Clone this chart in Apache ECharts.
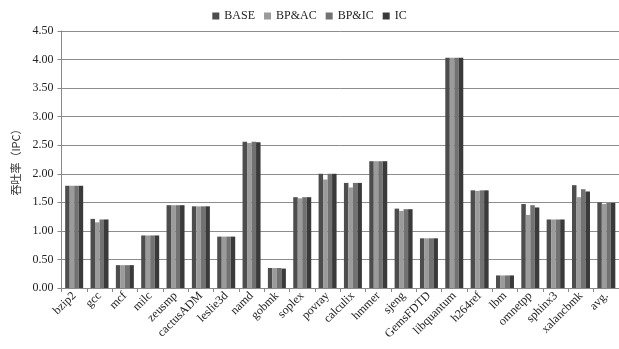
<!DOCTYPE html>
<html><head><meta charset="utf-8">
<script src="https://cdn.jsdelivr.net/npm/echarts@6/dist/echarts.min.js"></script>
<style>html,body{margin:0;padding:0;background:#fff}#c{width:619px;height:349px}</style>
</head><body><div id="c"></div>
<script>
const categories = ['bzip2','gcc','mcf','milc','zeusmp','cactusADM','leslie3d','namd','gobmk','soplex','povray','calculix','hmmer','sjeng','GemsFDTD','libquantum','h264ref','lbm','omnetpp','sphinx3','xalancbmk','avg.'];
const seriesNames = ['BASE','BP&AC','BP&IC','IC'];
const BASE  = [1.79,1.21,0.40,0.92,1.45,1.43,0.90,2.56,0.35,1.59,2.00,1.84,2.22,1.39,0.87,4.03,1.71,0.22,1.47,1.20,1.80,1.50];
const BPAC  = [1.79,1.15,0.40,0.92,1.45,1.43,0.90,2.54,0.35,1.57,1.90,1.76,2.22,1.35,0.87,4.03,1.70,0.22,1.28,1.20,1.59,1.47];
const BPIC  = [1.79,1.20,0.40,0.92,1.45,1.43,0.90,2.56,0.35,1.59,2.00,1.84,2.22,1.38,0.87,4.03,1.71,0.22,1.45,1.20,1.73,1.49];
const IC    = [1.79,1.20,0.40,0.92,1.45,1.43,0.90,2.55,0.34,1.59,2.00,1.84,2.22,1.38,0.87,4.03,1.71,0.22,1.41,1.20,1.69,1.49];
const colors = ['#4d4d4d','#9b9b9b','#727272','#3a3a3a'];
const values = [BASE, BPAC, BPIC, IC];
const font = '"Liberation Serif","Times New Roman",serif';
const chart = echarts.init(document.getElementById('c'));
chart.setOption({
  animation:false,
  color: colors,
  legend:{top:5,left:'center',itemWidth:7,itemHeight:7,itemGap:9,icon:'rect',
    textStyle:{fontFamily:font,fontSize:12,color:'#222'},data:seriesNames},
  grid:{left:61.5,top:31,width:561,height:257,containLabel:false},
  xAxis:{type:'category',data:categories,
    axisLine:{lineStyle:{color:'#888'}},
    axisTick:{show:true,length:4,lineStyle:{color:'#888'}},
    axisLabel:{rotate:45,interval:0,fontFamily:font,fontSize:12,color:'#222',margin:6}},
  yAxis:{type:'value',min:0,max:4.5,interval:0.5,
    name:'吞吐率（IPC）',nameLocation:'middle',nameGap:40,
    nameTextStyle:{fontFamily:'"Noto Sans CJK SC",sans-serif',fontSize:11,color:'#333'},
    axisLine:{show:true,lineStyle:{color:'#888'}},
    axisTick:{show:true,length:4,lineStyle:{color:'#888'}},
    splitLine:{lineStyle:{color:'#8c8c8c',width:1}},
    axisLabel:{formatter:v=>v.toFixed(2),fontFamily:font,fontSize:12,color:'#222',margin:8}},
  series: seriesNames.map((n,i)=>({name:n,type:'bar',data:values[i],barGap:'0%',barCategoryGap:'29%',
    itemStyle:{color:colors[i]}}))
});
</script></body></html>
